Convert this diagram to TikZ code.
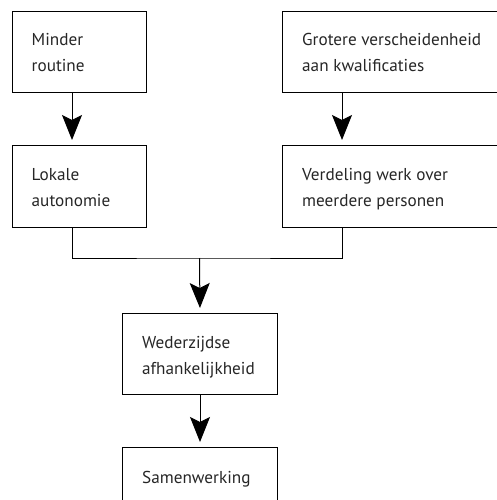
\documentclass[tikz,border=0pt]{standalone}
\usepackage{fontspec}
\setmainfont{PT Sans}
\usetikzlibrary{arrows.meta,calc}
\begin{document}
\begin{tikzpicture}[x=1pt,y=-1pt,
  box/.style={draw, line width=1pt, rectangle, inner sep=0pt, anchor=north west},
  txt/.style={anchor=base west, align=left, inner sep=0pt, font=\fontsize{17.2}{26}\selectfont, text=black!85},
  conn/.style={line width=1pt},
  arr/.style={conn, -{Stealth[length=25pt, width=20pt, inset=5pt]}, shorten >=5pt}
]
\useasboundingbox (0,0) rectangle (496,500);
\node[box, minimum width=134pt, minimum height=81pt] (a) at (11.5,11) {};
\node[box, minimum width=134pt, minimum height=82pt] (b) at (11.5,145) {};
\node[box, minimum width=240pt, minimum height=81pt] (c) at (282,11) {};
\node[box, minimum width=240pt, minimum height=82pt] (d) at (282,145) {};
\node[box, minimum width=155pt, minimum height=81pt] (e) at (122,313) {};
\node[box, minimum width=155pt, minimum height=81pt] (f) at (122,447) {};

\node[txt] (at) at ($(a.north west)+(20,61)$) {Minder\\routine};
\node[txt] (bt) at ($(b.north west)+(20,61)$) {Lokale\\autonomie};
\node[txt] (ct) at ($(c.north west)+(20,61)$) {Grotere verscheidenheid\\aan kwalificaties};
\node[txt] (dt) at ($(d.north west)+(20,61)$) {Verdeling werk over\\meerdere personen};
\node[txt] (et) at ($(e.north west)+(20,61)$) {Wederzijdse\\afhankelijkheid};
\node[txt] (ft) at ($(f.north west)+(20,36)$) {Samenwerking};

\coordinate (j) at (199.5,258);
\draw[arr] ($(a.south west)+(60.5,0)$) -- ($(b.north west)+(60.5,0)$);
\draw[arr] ($(c.south west)+(60,0)$) -- ($(d.north west)+(60,0)$);
\draw[conn] ($(b.south west)+(60.5,0)$) |- (j) -| ($(d.south west)+(60,0)$);
\draw[arr] (j) -- (e.north);
\draw[arr] (e.south) -- (f.north);
\end{tikzpicture}
\end{document}
